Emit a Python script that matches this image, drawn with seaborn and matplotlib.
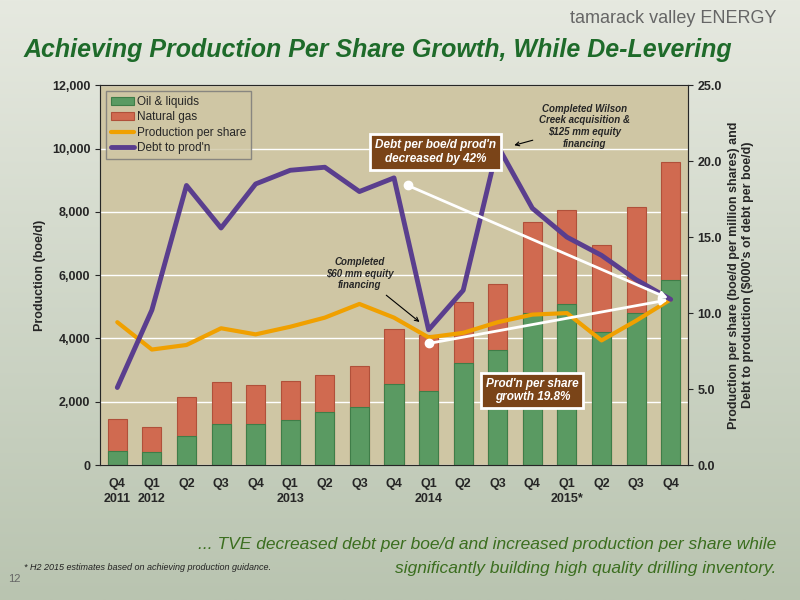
import matplotlib
matplotlib.use("Agg")
import matplotlib.pyplot as plt
import seaborn as sns
import numpy as np
import pandas as pd

quarters = ["Q4","Q1","Q2","Q3","Q4","Q1","Q2","Q3","Q4","Q1","Q2","Q3","Q4","Q1","Q2","Q3","Q4"]
years = {0:"2011",1:"2012",5:"2013",9:"2014",13:"2015*"}
oil = [440,400,920,1300,1300,1420,1680,1830,2560,2330,3220,3630,4800,5080,4200,4800,5840]
total = [1450,1200,2150,2620,2530,2650,2840,3130,4300,4100,5150,5720,7670,8050,6950,8150,9570]
pps = [9.4,7.6,7.9,9.0,8.6,9.1,9.7,10.6,9.7,8.4,8.7,9.4,9.9,10.0,8.2,9.5,10.9]
debt = [5.1,10.2,18.4,15.6,18.5,19.4,19.6,18.0,18.9,8.9,11.5,21.0,16.9,15.0,13.8,12.2,10.9]

sns.set_style("white")
plt.rcParams['font.family'] = ['Liberation Sans', 'DejaVu Sans']

fig = plt.figure(figsize=(8,6), dpi=100)
bg = fig.add_axes([0,0,1,1], zorder=-10)
grad = np.linspace(0,1,256).reshape(-1,1)
bg.imshow(grad, aspect='auto', cmap=matplotlib.colors.LinearSegmentedColormap.from_list("g",["#e6e9e0","#b9c4b0"]), extent=[0,1,0,1])
bg.axis('off')

ax = fig.add_axes([0.125, 0.225, 0.735, 0.633])
ax.set_facecolor("#cfc6a4")
df = pd.DataFrame({"x": np.arange(len(quarters)), "oil": oil, "total": total})
sns.barplot(data=df, x="x", y="total", color="#d06a50", width=0.55, ax=ax, saturation=1, label="Natural gas", edgecolor="#b0503a", linewidth=0.8)
sns.barplot(data=df, x="x", y="oil", color="#5a9a62", width=0.55, ax=ax, saturation=1, label="Oil & liquids", edgecolor="#3f7d48", linewidth=0.8)
h1, l1 = ax.get_legend_handles_labels()
if ax.get_legend() is not None:
    ax.get_legend().remove()
ax.set_ylim(0,12000)
ax.set_yticks(range(0,12001,2000))
ax.set_yticklabels([f"{v:,}" for v in range(0,12001,2000)], fontsize=9, fontweight='bold')
ax.yaxis.grid(True, color="white", linewidth=1)
ax.set_axisbelow(True)
ax.set_xlim(-0.5, 16.5)
ax.set_xticks(range(17))
ax.set_xticklabels(quarters, fontsize=9, fontweight='bold')
ax.tick_params(axis='x', pad=9, length=0)
for i, y in years.items():
    ax.text(i, -0.075, y, transform=ax.get_xaxis_transform(), ha='center', va='top', fontsize=9, fontweight='bold')
ax.set_xlabel("")
ax.set_ylabel("Production (boe/d)", fontsize=9, fontweight='bold')
for s in ax.spines.values():
    s.set_color("#888888")

ax2 = ax.twinx()
ax2.plot(range(17), pps, color="#f0a000", lw=3, label="Production per share")
ax2.plot(range(17), debt, color="#5a3e8e", lw=3.5, label="Debt to prod'n")
ax2.set_ylim(0,25)
ax2.set_yticks(np.arange(0,25.1,5))
ax2.set_yticklabels([f"{v:.1f}" for v in np.arange(0,25.1,5)], fontsize=9, fontweight='bold')
ax2.set_ylabel("Production per share (boe/d per million shares) and\nDebt to production ($000's of debt per boe/d)", fontsize=9, fontweight='bold')

h2, l2 = ax2.get_legend_handles_labels()
hd = dict(zip(l1, h1))
leg = ax2.legend([hd["Oil & liquids"], hd["Natural gas"]] + h2, ["Oil & liquids", "Natural gas"] + l2, loc='upper left', fontsize=8.5, frameon=True, fancybox=False, handlelength=2, borderpad=0.4, labelspacing=0.3, handletextpad=0.2)
leg.get_frame().set_facecolor("#cfc6a4"); leg.get_frame().set_edgecolor("#777777")

ax2.annotate("", xy=(16,10.9), xytext=(8.4,18.4), arrowprops=dict(arrowstyle="-|>", color="white", lw=2))
ax2.plot([8.4],[18.4],'o',color='white',ms=6)
ax2.annotate("", xy=(16,10.9), xytext=(9,8.0), arrowprops=dict(arrowstyle="-|>", color="white", lw=2))
ax2.plot([9],[8.0],'o',color='white',ms=6)
box = dict(boxstyle="square,pad=0.4", fc="#7a4418", ec="white", lw=2)
ax2.text(9.2, 20.6, "Debt per boe/d prod'n\ndecreased by 42%", ha='center', va='center', color='white', fontsize=8.5, style='italic', fontweight='bold', bbox=box)
ax2.text(12.0, 4.9, "Prod'n per share\ngrowth 19.8%", ha='center', va='center', color='white', fontsize=8.5, style='italic', fontweight='bold', bbox=box)
ax2.annotate("Completed Wilson\nCreek acquisition &\n$125 mm equity\nfinancing", xy=(11.4,21.0), xytext=(13.5,22.3), ha='center', va='center', fontsize=7, style='italic', fontweight='bold', arrowprops=dict(arrowstyle="->", color="black", lw=0.8))
ax2.annotate("Completed\n$60 mm equity\nfinancing", xy=(8.8,9.3), xytext=(7.0,12.6), ha='center', va='center', fontsize=7, style='italic', fontweight='bold', arrowprops=dict(arrowstyle="->", color="black", lw=0.8))

fig.text(0.03, 0.905, "Achieving Production Per Share Growth, While De-Levering", fontsize=18, fontweight='bold', style='italic', color="#1e6b2a")
fig.text(0.97, 0.962, "tamarack valley ENERGY", fontsize=13, color="#666666", ha='right')
fig.text(0.97, 0.085, "... TVE decreased debt per boe/d and increased production per share while", fontsize=12.5, style='italic', color="#3b6e1f", ha='right')
fig.text(0.97, 0.045, "significantly building high quality drilling inventory.", fontsize=12.5, style='italic', color="#3b6e1f", ha='right')
fig.text(0.03, 0.05, "* H2 2015 estimates based on achieving production guidance.", fontsize=6.5, style='italic', color="#222222")
fig.text(0.01, 0.03, "12", fontsize=8, color="#666666")
fig.savefig("out.png", dpi=100)
